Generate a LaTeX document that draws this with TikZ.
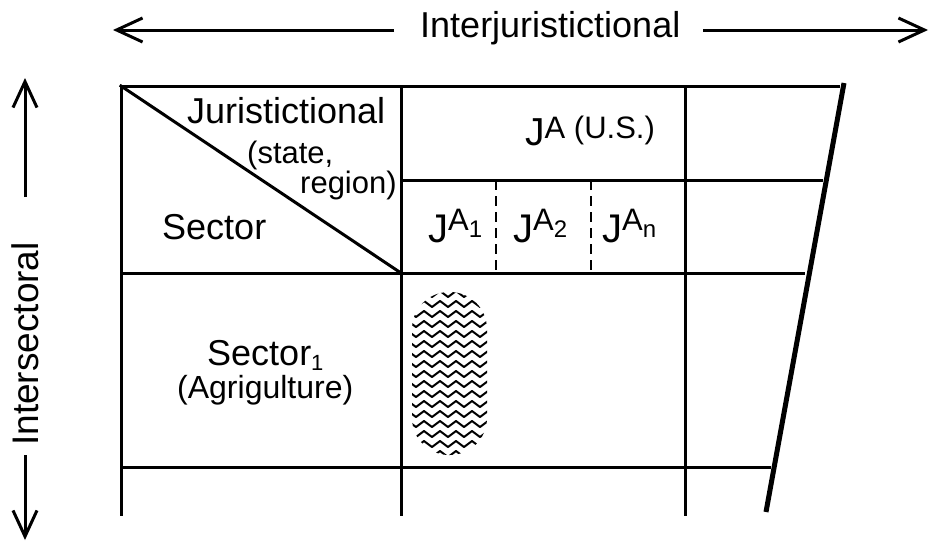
\documentclass[tikz,border=0pt]{standalone}
\usepackage{fontspec}
\setmainfont{Liberation Sans}
\usetikzlibrary{arrows.meta,decorations.pathmorphing}
\begin{document}
\begin{tikzpicture}[x=1pt,y=-1pt,
  gridline/.style={line width=3pt, line cap=rect},
  sepline/.style={line width=2.8pt, dash pattern=on 10pt off 6pt},
  heavyline/.style={line width=5pt},
  arr/.style={line width=3pt, -{Straight Barb[length=26pt,width=24pt,line width=3pt]}},
  lbl/.style={inner sep=0pt, anchor=base west},
  wave/.style={line width=2pt, line join=round, decorate,
    decoration={zigzag, segment length=16pt, amplitude=3pt}}]
\useasboundingbox (0,0) rectangle (932,546);
% grid
\draw[gridline] (121,86) -- (838,86);
\draw[gridline] (401,180) -- (821,180);
\draw[gridline] (121,273) -- (803,273);
\draw[gridline] (121,467) -- (769,467);
\draw[gridline] (121,86) -- (121,514);
\draw[gridline] (401,86) -- (401,514);
\draw[gridline] (685,86) -- (685,514);
\draw[gridline] (121,86) -- (401,273);
\draw[heavyline] (844,83) -- (766,512);
\draw[sepline] (496,180) -- (496,273);
\draw[sepline] (591,180) -- (591,273);
% hatched blob
\begin{scope}
\clip[rounded corners=37pt] (412,292) rectangle (487,455);
\foreach \k in {0,...,16} {
  \draw[wave] (404,{294+\k*10}) -- (500,{294+\k*10});
}
\end{scope}
% top label and arrows
\node[lbl] (inter) at (420,37) {\fontsize{36}{40}\selectfont Interjuristictional};
\coordinate (tl0) at (394,30);
\coordinate (tl1) at (113,30);
\coordinate (tr0) at (703,30);
\coordinate (tr1) at (928,30);
\draw[arr] (tl0) -- (tl1);
\draw[arr] (tr0) -- (tr1);
% left label and arrows
\node[lbl, rotate=90] (intersec) at (38,446) {\fontsize{37}{40}\selectfont Intersectoral};
\coordinate (vu0) at (25,197);
\coordinate (vu1) at (25,78);
\coordinate (vd0) at (25,455);
\coordinate (vd1) at (25,540);
\draw[arr] (vu0) -- (vu1);
\draw[arr] (vd0) -- (vd1);
% header cell
\node[lbl] (jur) at (187,123) {\fontsize{36}{40}\selectfont Juristictional};
\node[lbl] (state) at (247,163) {\fontsize{31}{34}\selectfont (state,};
\node[lbl] (region) at (300,193) {\fontsize{31}{34}\selectfont region)};
\node[lbl] (sector) at (162,239) {\fontsize{36}{40}\selectfont Sector};
% J cells
\node[lbl] (ja) at (525,145) {\fontsize{39}{40}\selectfont J\raisebox{7pt}{\fontsize{31}{34}\selectfont A (U.S.)}};
\node[lbl] (ja1) at (428,242) {\fontsize{40}{42}\selectfont J\raisebox{12pt}{\fontsize{31}{34}\selectfont A}\raisebox{5pt}{\fontsize{24}{26}\selectfont 1}};
\node[lbl] (ja2) at (513,242) {\fontsize{40}{42}\selectfont J\raisebox{12pt}{\fontsize{31}{34}\selectfont A}\raisebox{5pt}{\fontsize{24}{26}\selectfont 2}};
\node[lbl] (jan) at (602,242) {\fontsize{40}{42}\selectfont J\raisebox{12pt}{\fontsize{31}{34}\selectfont A}\raisebox{5pt}{\fontsize{24}{26}\selectfont n}};
% sector row
\node[lbl] (sec1) at (207,365) {\fontsize{36}{40}\selectfont Sector\raisebox{-5pt}{\fontsize{22}{24}\selectfont 1}};
\node[lbl] (agri) at (177,398) {\fontsize{32}{36}\selectfont (Agrigulture)};
\end{tikzpicture}
\end{document}
